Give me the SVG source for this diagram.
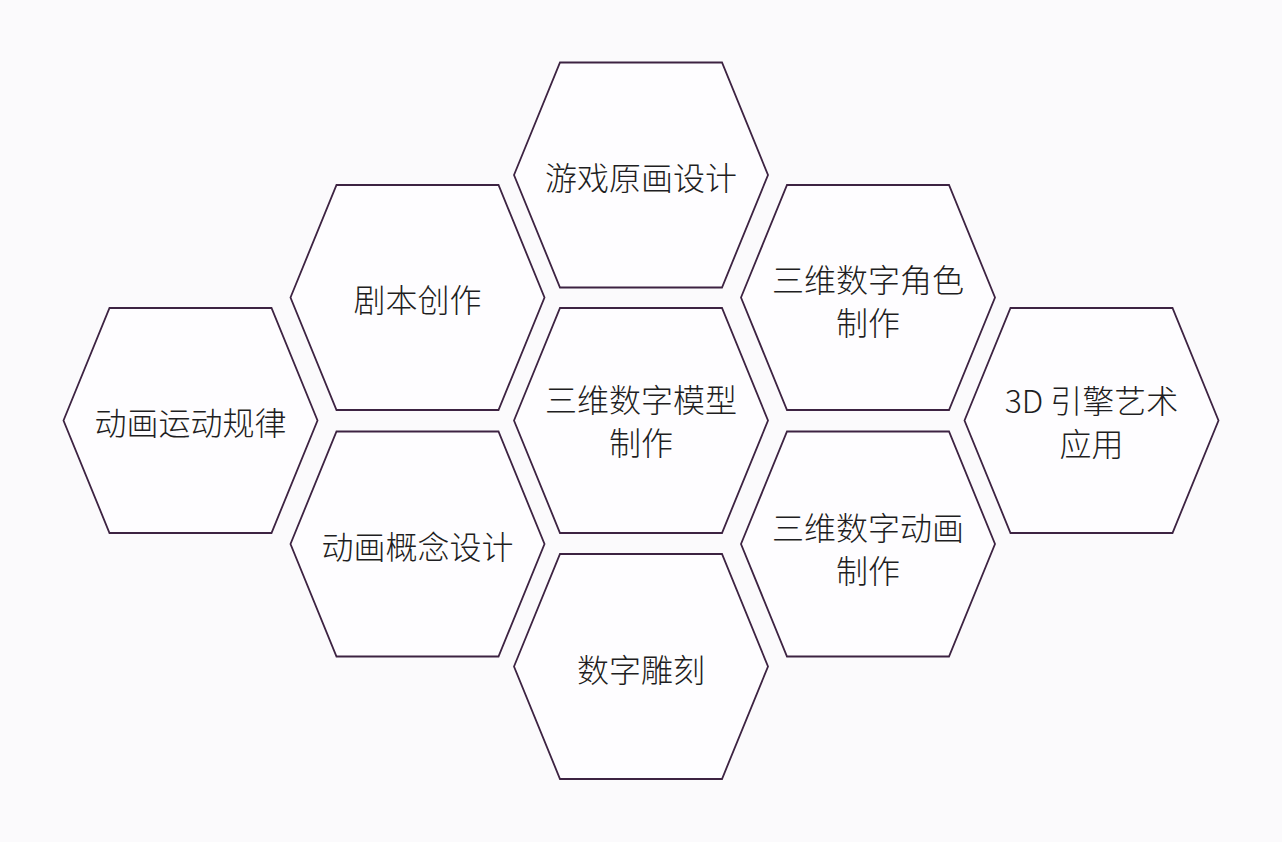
<svg xmlns="http://www.w3.org/2000/svg" width="1282" height="842" viewBox="0 0 1282 842">
<style>
.hex{fill:#fefdff;stroke:#3d2342;stroke-width:1.8;stroke-linejoin:miter}
.t{font-family:"Noto Sans CJK SC","Noto Sans",sans-serif;font-size:32px;font-weight:300;fill:#1e1e22;text-anchor:middle}
</style>
<defs>
<polygon id="h" points="-127,0 -81,-112.5 81,-112.5 127,0 81,112.5 -81,112.5"/>
</defs>
<rect width="1282" height="842" fill="#fbfafc"/>
<g id="n1" transform="translate(641,175)"><use href="#h" class="hex"/><text class="t" x="0" y="15">游戏原画设计</text></g>
<g id="n2" transform="translate(417.5,297.5)"><use href="#h" class="hex"/><text class="t" x="0" y="14">剧本创作</text></g>
<g id="n3" transform="translate(868,297.5)"><use href="#h" class="hex"/><text class="t" x="0" y="-6">三维数字角色</text><text class="t" x="0" y="37">制作</text></g>
<g id="n4" transform="translate(190.5,420.5)"><use href="#h" class="hex"/><text class="t" x="0" y="14">动画运动规律</text></g>
<g id="n5" transform="translate(641,420.5)"><use href="#h" class="hex"/><text class="t" x="0" y="-9">三维数字模型</text><text class="t" x="0" y="34">制作</text></g>
<g id="n6" transform="translate(1091.5,420.5)"><use href="#h" class="hex"/><text class="t" x="0" y="-8">3D 引擎艺术</text><text class="t" x="0" y="35">应用</text></g>
<g id="n7" transform="translate(417.5,544)"><use href="#h" class="hex"/><text class="t" x="0" y="15">动画概念设计</text></g>
<g id="n8" transform="translate(868,544)"><use href="#h" class="hex"/><text class="t" x="0" y="-4">三维数字动画</text><text class="t" x="0" y="39">制作</text></g>
<g id="n9" transform="translate(641,666.5)"><use href="#h" class="hex"/><text class="t" x="0" y="15">数字雕刻</text></g>
<g id="connectors"></g>
</svg>
